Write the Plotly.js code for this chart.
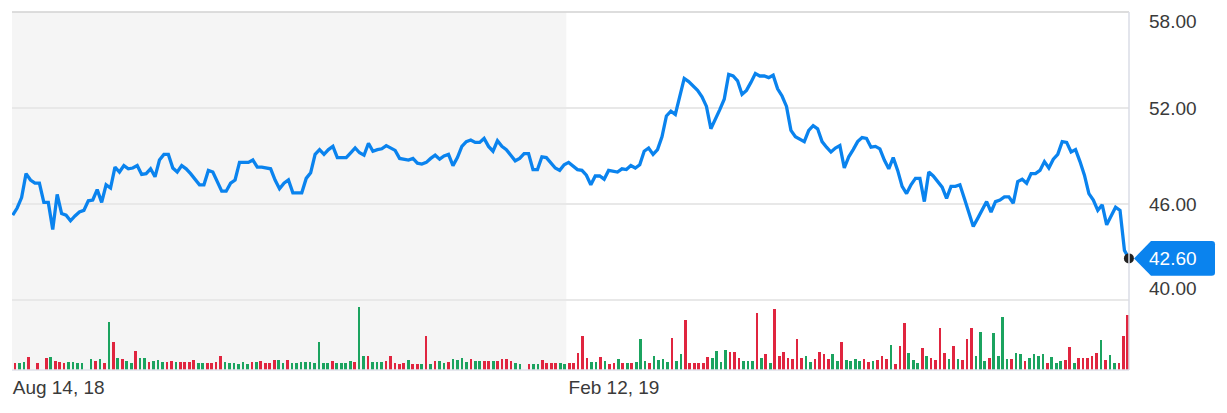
<!DOCTYPE html>
<html>
<head>
<meta charset="utf-8">
<script src="https://cdn.plot.ly/plotly-3.0.1.min.js"></script>
<style>
  html, body { margin: 0; padding: 0; background: #fff; }
  #chart { width: 1227px; height: 413px; }
</style>
</head>
<body>
<div id="chart"></div>
<script>
// daily close, one year of trading days
var closes = [
  45.3, 45.75, 46.4, 47.9, 47.5, 47.3, 47.3, 46.1, 46.1, 44.4,
  46.6, 45.4, 45.3, 44.95, 45.25, 45.5, 45.6, 46.2, 46.25, 46.9,
  46.1, 47.2, 47.0, 48.3, 48.0, 48.4, 48.2, 48.25, 48.4, 47.85,
  47.9, 48.2, 47.7, 48.75, 49.1, 49.1, 48.25, 48.0, 48.4, 48.2,
  47.9, 47.55, 47.2, 47.2, 48.1, 48.0, 47.4, 46.8, 46.8, 47.3,
  47.5, 48.6, 48.6, 48.6, 48.75, 48.3, 48.3, 48.25, 48.2, 47.5,
  46.95, 47.3, 47.5, 46.7, 46.7, 46.7, 47.6, 47.95, 49.1, 49.4,
  49.1, 49.4, 49.6, 48.9, 48.9, 48.9, 49.2, 49.5, 49.2, 49.05,
  49.8, 49.3, 49.4, 49.45, 49.65, 49.5, 49.35, 48.85, 48.8, 48.75,
  48.85, 48.55, 48.5, 48.6, 48.85, 49.05, 48.8, 49.0, 49.1, 48.4,
  48.9, 49.6, 49.9, 50.0, 49.85, 49.85, 50.1, 49.6, 49.3, 49.95,
  49.6, 49.4, 49.05, 48.7, 48.85, 49.15, 49.15, 48.15, 48.15, 48.95,
  48.9, 48.55, 48.25, 48.1, 48.45, 48.6, 48.4, 48.15, 48.1, 47.8,
  47.2, 47.75, 47.75, 47.55, 48.1, 48.05, 48.0, 48.2, 48.15, 48.4,
  48.25, 48.45, 49.3, 49.5, 49.1, 49.4, 50.2, 51.5, 51.8, 51.6,
  52.7, 53.85, 53.65, 53.4, 53.1, 52.7, 52.1, 50.7, 51.25, 51.9,
  52.55, 54.1, 54.0, 53.7, 52.85, 53.1, 53.6, 54.15, 54.0, 54.0,
  53.9, 54.05, 53.2, 52.75, 52.1, 50.6, 50.2, 50.05, 49.9, 50.6,
  50.9, 50.7, 49.9, 49.55, 49.25, 49.5, 49.65, 48.25, 48.95, 49.4,
  49.9, 50.15, 50.1, 49.55, 49.6, 49.45, 48.75, 48.2, 48.9, 48.1,
  47.1, 46.65, 47.2, 47.6, 47.6, 46.15, 48.0, 47.75, 47.4, 47.05,
  46.35, 47.1, 47.1, 47.2, 46.35, 45.4, 44.6, 45.1, 45.6, 46.15,
  45.5, 46.15, 46.25, 46.45, 46.45, 46.05, 47.4, 47.55, 47.3, 47.9,
  47.9, 48.1, 48.65, 48.25, 48.8, 49.1, 49.9, 49.85, 49.25, 49.4,
  48.65, 47.8, 46.65, 46.25, 45.6, 45.95, 44.7, 45.3, 45.8, 45.6,
  43.1, 42.6
];

// daily volume, millions
var volumes = [
  1.7, 1.8, 2.1, 3.3, 0, 1.7, 0, 3.1, 3.2, 2.3,
  2.1, 1.8, 1.9, 1.9, 1.7, 1.7, 0, 2.7, 2.3, 2.8,
  1.8, 12.1, 6.9, 2.9, 2.8, 2.3, 1.8, 4.8, 2.9, 3.1,
  2.1, 2.3, 2.4, 2.1, 2.1, 2.3, 2.1, 2.1, 1.9, 2.1,
  2.6, 1.8, 1.8, 1.8, 1.8, 2.1, 3.4, 2.1, 1.8, 1.8,
  1.5, 2.1, 1.5, 2.1, 2.1, 2.3, 1.8, 1.7, 2.4, 2.4,
  1.7, 2.5, 1.7, 1.7, 1.9, 1.9, 1.9, 1.8, 7.1, 1.7,
  1.7, 2.3, 1.8, 1.7, 1.8, 2.3, 2.1, 15.8, 3.6, 3.5,
  2.1, 2.1, 2.1, 2.3, 3.5, 1.7, 1.5, 1.8, 2.5, 1.5,
  1.5, 1.5, 8.5, 1.5, 2.3, 2.3, 1.8, 2.1, 2.8, 2.5,
  3.1, 2.1, 2.8, 2.3, 2.3, 2.3, 2.3, 2.3, 2.3, 2.7,
  2.8, 2.3, 1.8, 1.5, 0, 1.5, 1.5, 1.5, 2.5, 1.7,
  1.7, 1.7, 1.7, 1.5, 1.7, 1.7, 4.3, 8.5, 2.9, 1.9,
  2.1, 3.2, 2.3, 1.5, 1.8, 2.7, 1.7, 1.7, 1.7, 2.1,
  7.8, 2.3, 1.7, 3.6, 2.5, 2.8, 2.1, 7.9, 2.3, 4.0,
  12.5, 1.8, 1.8, 1.8, 1.8, 3.3, 2.9, 4.8, 2.1, 5.0,
  4.4, 4.4, 3.1, 2.3, 2.3, 2.3, 14.3, 2.9, 3.9, 1.8,
  15.3, 3.5, 4.6, 3.1, 2.7, 7.7, 2.9, 3.5, 2.1, 2.7,
  4.6, 3.9, 2.8, 3.9, 2.3, 6.9, 2.5, 2.3, 2.7, 2.3,
  2.8, 2.1, 2.3, 2.5, 3.5, 2.8, 6.3, 1.5, 6.0, 11.8,
  4.3, 2.5, 1.8, 5.6, 3.5, 3.1, 2.5, 10.4, 4.2, 2.7,
  6.0, 2.7, 2.5, 7.8, 10.6, 3.5, 9.4, 2.3, 2.9, 9.3,
  3.5, 13.3, 2.7, 2.7, 4.2, 4.0, 2.3, 3.1, 4.0, 3.5,
  4.0, 1.7, 3.3, 1.7, 2.3, 2.5, 5.7, 1.8, 3.1, 2.9,
  2.9, 3.5, 4.2, 7.5, 2.5, 3.8, 1.8, 1.8, 8.5, 13.8
];

// 1 = up day (green), 0 = down day (red)
var volumeUp = [
  0,1,1,0,1,0,1,0,1,0, 0,0,1,1,1,1,1,1,0,1,
  0,1,0,1,0,1,1,0,1,1, 0,1,1,1,0,0,1,0,0,0,
  0,1,1,0,0,0,0,1,1,1, 1,1,1,0,1,0,0,0,0,1,
  1,0,1,1,1,1,1,1,1,1, 1,0,1,1,1,1,0,1,1,0,
  1,1,1,0,0,0,0,0,1,0, 0,1,0,1,0,1,1,0,1,1,
  1,1,0,1,1,0,0,1,0,0, 0,0,1,1,1,0,1,1,0,0,
  0,0,1,1,0,0,0,0,0,1, 1,0,1,0,0,1,0,1,0,1,
  1,1,0,1,1,1,1,0,1,1, 0,0,0,0,0,0,1,1,1,1,
  0,0,0,1,1,1,0,1,0,1, 0,0,0,0,0,0,0,1,1,0,
  0,0,0,1,1,0,1,1,1,1, 0,0,1,0,0,0,1,0,0,0,
  1,1,1,0,1,0,0,0,0,1, 0,1,0,0,0,1,1,1,0,1,
  1,1,1,0,1,1,0,1,1,1, 1,0,1,1,1,0,0,1,0,0,
  0,0,0,1,0,1,1,0,0,0
];

var tickIdx = [0, 125];
var tickText = ['Aug 14, 18', 'Feb 12, 19'];
var priceTicks = [40, 46, 52, 58];
var priceLabelShift = [12, 0, 0, -9];

var upColor = '#1ba35f';
var downColor = '#e0253f';
var lineBlue = '#0a83ee';
var font = '"Liberation Sans", Arial, sans-serif';

var dayIdx = closes.map(function (v, i) { return i; });
var volIdx = volumes.map(function (v, i) { return i; });
var last = closes.length - 1;
var lastClose = closes[last];

var volTrace = {
  x: volIdx, y: volumes,
  type: 'bar',
  xaxis: 'x2', yaxis: 'y2',
  width: 0.6,
  marker: {color: volumeUp.map(function (u) { return u ? upColor : downColor; })},
  hoverinfo: 'skip'
};

var priceTrace = {
  x: dayIdx, y: closes,
  type: 'scatter', mode: 'lines',
  line: {color: lineBlue, width: 3.3},
  hoverinfo: 'skip'
};

var lastDot = {
  x: [last], y: [lastClose],
  type: 'scatter', mode: 'markers',
  marker: {color: '#222', size: 10},
  cliponaxis: false,
  hoverinfo: 'skip'
};

var annotations = priceTicks.map(function (t, i) {
  return {
    xref: 'paper', yref: 'y', x: 1.0161, y: t,
    xanchor: 'left', yanchor: 'middle', yshift: priceLabelShift[i],
    text: t.toFixed(2), showarrow: false,
    font: {family: font, size: 19, color: '#3a3a3a'}
  };
});
annotations.push({
  xref: 'paper', yref: 'y', x: 1.0161, y: lastClose,
  xanchor: 'left', yanchor: 'middle',
  text: lastClose.toFixed(2), showarrow: false,
  font: {family: font, size: 19, color: '#ffffff'}
});

// price tag pointing at the last close
var h = 1.08, r = 0.003, rv = 0.2;
var tag = 'M 1.0045 ' + lastClose +
  ' L 1.0197 ' + (lastClose + h) +
  ' L ' + (1.077 - r) + ' ' + (lastClose + h) +
  ' Q 1.077 ' + (lastClose + h) + ' 1.077 ' + (lastClose + h - rv) +
  ' L 1.077 ' + (lastClose - h + rv) +
  ' Q 1.077 ' + (lastClose - h) + ' ' + (1.077 - r) + ' ' + (lastClose - h) +
  ' L 1.0197 ' + (lastClose - h) + ' Z';

var layout = {
  width: 1227, height: 413,
  margin: {l: 12, r: 98, t: 12, b: 43},
  paper_bgcolor: '#ffffff',
  plot_bgcolor: '#ffffff',
  showlegend: false,
  bargap: 0,
  xaxis: {
    range: [-0.16, 251.02],
    showgrid: false, zeroline: false, showline: false,
    tickvals: tickIdx, ticktext: tickText,
    ticks: '', ticklabelposition: 'outside right',
    ticklabelstandoff: 4,
    tickfont: {family: font, size: 19, color: '#3a3a3a'}
  },
  yaxis: {
    range: [35.625, 58],
    tickvals: priceTicks,
    showticklabels: false, ticks: '',
    showgrid: true, gridcolor: '#e8e8e8', gridwidth: 1.5,
    zeroline: false, showline: false
  },
  xaxis2: {
    range: [-0.67, 249.27],
    overlaying: 'x', visible: false
  },
  yaxis2: {
    range: [0, 89.5],
    overlaying: 'y', visible: false
  },
  shapes: [
    {type: 'rect', xref: 'x', yref: 'paper', x0: -0.16, x1: tickIdx[1] - 0.5, y0: 0, y1: 1,
     fillcolor: '#f5f5f5', line: {width: 0}, layer: 'below'},
    {type: 'line', xref: 'paper', yref: 'paper', x0: 0, x1: 1, y0: 1, y1: 1,
     line: {color: '#d2d2d2', width: 1.5}},
    {type: 'line', xref: 'paper', yref: 'paper', x0: 1, x1: 1, y0: 0, y1: 1,
     line: {color: '#dadce6', width: 1.5}},
    {type: 'line', xref: 'paper', yref: 'paper', x0: 0, x1: 1, y0: 0, y1: 0,
     line: {color: '#dfe1e8', width: 1.5}},
    {type: 'path', xref: 'paper', yref: 'y', path: tag,
     fillcolor: lineBlue, line: {width: 0}}
  ],
  annotations: annotations
};

Plotly.newPlot('chart', [volTrace, priceTrace, lastDot], layout, {displayModeBar: false, staticPlot: true});
</script>
</body>
</html>
